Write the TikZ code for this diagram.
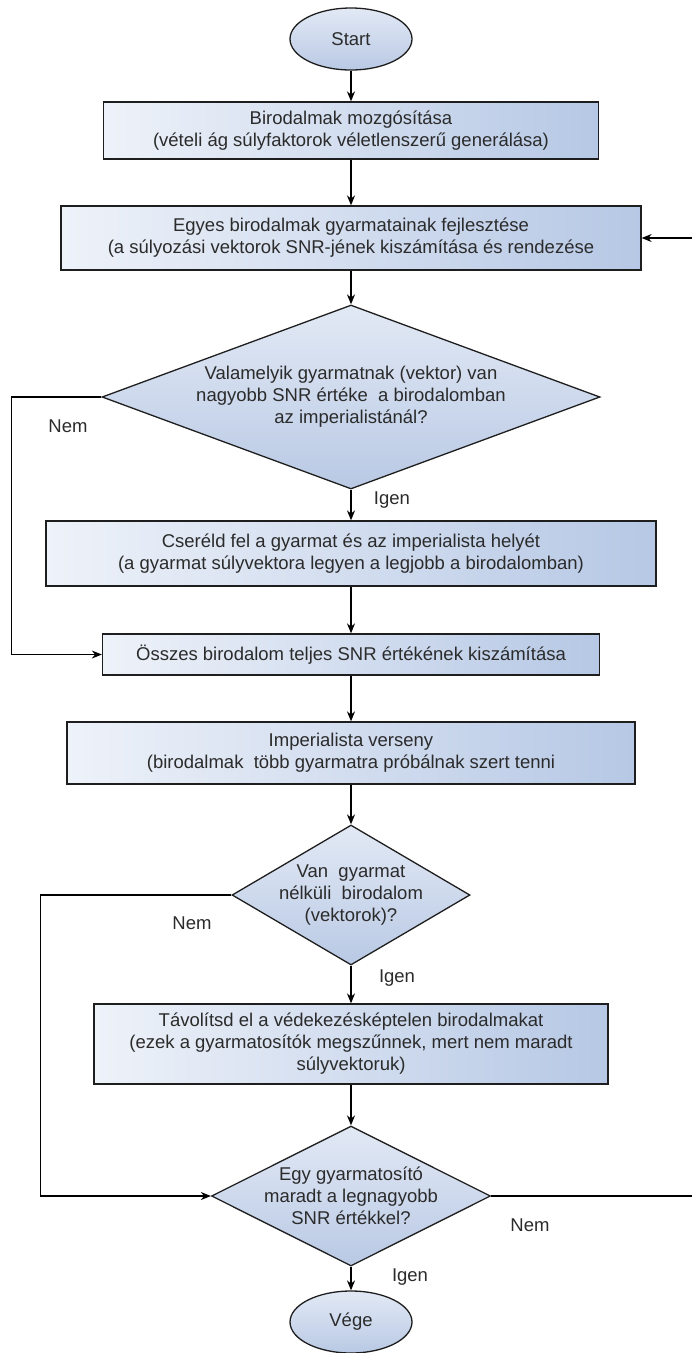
\documentclass[tikz,border=0pt]{standalone}
\usepackage{fontspec}
\setmainfont{Liberation Sans}
\usetikzlibrary{shapes.geometric,arrows.meta}
\definecolor{boxleft}{HTML}{EEF2F9}
\definecolor{boxright}{HTML}{B6C8E5}
\definecolor{decitop}{HTML}{E2E9F5}
\definecolor{decibot}{HTML}{B9C9E4}
\definecolor{ink}{HTML}{2B2B2B}
\definecolor{edge}{HTML}{1E1E1E}

\begin{document}
\begin{tikzpicture}[x=1pt,y=-1pt,
  every node/.style={font=\fontsize{18.5}{22}\selectfont, text=ink},
  procbox/.style={rectangle, draw=edge, line width=1.3pt,
    left color=boxleft, right color=boxright, align=center, inner sep=0pt},
  decision/.style={diamond, draw=edge, line width=1.3pt,
    top color=decitop, bottom color=decibot, inner sep=0pt, shape aspect=2},
  terminal/.style={ellipse, draw=edge, line width=1.3pt,
    top color=decitop, bottom color=decibot, inner sep=0pt,
    minimum width=122pt, minimum height=62pt},
  qtext/.style={align=center, inner sep=0pt},
  answer/.style={inner sep=0pt},
  flow/.style={draw=black, line width=1.1pt, -{Stealth[length=10pt,width=8pt]}}
]
\useasboundingbox (0,0) rectangle (692,1353);

% process chain
\node[terminal] (start) at (351,39) {Start};
\node[procbox, minimum width=495pt, minimum height=57pt] (b1) at (351,130.5)
  {Birodalmak mozgósítása\\(vételi ág súlyfaktorok véletlenszerű generálása)};
\node[procbox, minimum width=580pt, minimum height=64pt] (b2) at (351,238)
  {Egyes birodalmak gyarmatainak fejlesztése\\(a súlyozási vektorok SNR-jének kiszámítása és rendezése};
\node[decision, minimum width=498pt, minimum height=184pt,
  label={[qtext]center:{Valamelyik gyarmatnak (vektor) van\\nagyobb SNR értéke\ \ a birodalomban\\az imperialistánál?}}]
  (d1) at (351,397) {};
\node[procbox, minimum width=610pt, minimum height=65pt] (b3) at (351,553.5)
  {Cseréld fel a gyarmat és az imperialista helyét\\(a gyarmat súlyvektora legyen a legjobb a birodalomban)};
\node[procbox, minimum width=497pt, minimum height=41pt] (b4) at (351,654.5)
  {Összes birodalom teljes SNR értékének kiszámítása};
\node[procbox, minimum width=568pt, minimum height=62pt] (b5) at (351,753)
  {Imperialista verseny\\(birodalmak\ \ több gyarmatra próbálnak szert tenni};
\node[decision, minimum width=238pt, minimum height=140pt,
  label={[qtext]center:{Van\ \ gyarmat\\nélküli\ \ birodalom\\(vektorok)?}}]
  (d2) at (351,895) {};
\node[procbox, minimum width=514pt, minimum height=80pt] (b6) at (351,1044)
  {Távolítsd el a védekezésképtelen birodalmakat\\(ezek a gyarmatosítók megszűnnek, mert nem maradt\\súlyvektoruk)};
\node[decision, minimum width=279pt, minimum height=140pt,
  label={[qtext]center:{Egy gyarmatosító\\maradt a legnagyobb\\SNR értékkel?}}]
  (d3) at (351,1196) {};
\node[terminal] (stop) at (351,1322) {Vége};

% branch labels
\node[answer] (nem1) at (68,426) {Nem};
\node[answer] (igen1) at (392,500) {Igen};
\node[answer] (nem2) at (192,923) {Nem};
\node[answer] (igen2) at (397,978) {Igen};
\node[answer] (nem3) at (530,1225) {Nem};
\node[answer] (igen3) at (410,1277) {Igen};

% main flow
\draw[flow] (start) -- (b1);
\draw[flow] (b1) -- (b2);
\draw[flow] (b2) -- (d1);
\draw[flow] (d1) -- (b3);
\draw[flow] (b3) -- (b4);
\draw[flow] (b4) -- (b5);
\draw[flow] (b5) -- (d2);
\draw[flow] (d2) -- (b6);
\draw[flow] (b6) -- (d3);
\draw[flow] (d3) -- (stop);

% "Nem" branches
\draw[flow] (d1.west) -- ++(-90,0) |- (b4.west);
\draw[flow] (d2.west) -- ++(-191,0) |- (d3.west);
\coordinate (loopback) at (694,1196);
\draw[flow] (d3.east) -- (loopback) |- (b2.east);
\end{tikzpicture}
\end{document}
